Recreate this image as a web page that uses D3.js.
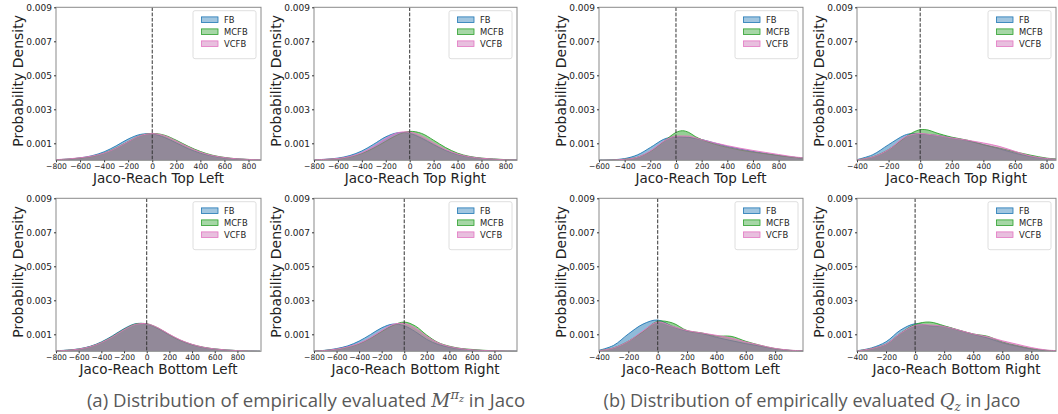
<!DOCTYPE html>
<html><head><meta charset="utf-8">
<script src="https://cdn.jsdelivr.net/npm/d3@7"></script>
<style>body{margin:0;background:#fff} svg{display:block}</style>
</head><body>
<svg id="chart" width="1058" height="414"></svg>
<script>
// ---------- DATA ----------
const series = ["FB", "MCFB", "VCFB"];
const yTickValues = [0.001, 0.003, 0.005, 0.007, 0.009];
const xTicksA = [-800, -600, -400, -200, 0, 200, 400, 600, 800];
const xTicksB = [-600, -400, -200, 0, 200, 400, 600, 800];
const xTicksC = [-400, -200, 0, 200, 400, 600, 800];
const panelTitles = ["Jaco-Reach Top Left", "Jaco-Reach Top Right", "Jaco-Reach Top Left", "Jaco-Reach Top Right",
                     "Jaco-Reach Bottom Left", "Jaco-Reach Bottom Right", "Jaco-Reach Bottom Left", "Jaco-Reach Bottom Right"];

// densities in units of 1e-3
// (a) M^pi_z, Top Left
const gridM_TL = [-800,-700,-600,-500,-400,-300,-200,-100,0,100,200,300,400,500,600,700,800,900];
const fbM_TL   = [0.03,0.07,0.14,0.27,0.50,0.85,1.25,1.52,1.55,1.35,1.02,0.68,0.42,0.25,0.14,0.08,0.04,0.02];
const mcfbM_TL = [0.03,0.07,0.13,0.23,0.42,0.73,1.10,1.45,1.58,1.48,1.18,0.82,0.52,0.30,0.17,0.09,0.05,0.02];
const vcfbM_TL = [0.04,0.08,0.15,0.25,0.42,0.72,1.10,1.45,1.57,1.45,1.13,0.78,0.48,0.28,0.16,0.09,0.05,0.03];
// (a) Top Right
const gridM_TR = [-800,-700,-600,-500,-400,-300,-200,-100,0,100,200,300,400,500,600,700,800,900];
const fbM_TR   = [0.03,0.06,0.13,0.28,0.55,0.95,1.38,1.62,1.58,1.30,0.92,0.58,0.34,0.20,0.11,0.06,0.03,0.02];
const mcfbM_TR = [0.02,0.05,0.10,0.20,0.40,0.72,1.12,1.50,1.70,1.58,1.18,0.75,0.42,0.23,0.13,0.08,0.04,0.02];
const vcfbM_TR = [0.03,0.06,0.11,0.22,0.45,0.82,1.28,1.62,1.66,1.42,1.02,0.64,0.37,0.21,0.12,0.07,0.03,0.02];
// (a) Bottom Left
const gridM_BL = [-800,-700,-600,-500,-400,-300,-200,-100,0,100,200,300,400,500,600,700,800,900,1000];
const fbM_BL   = [0.03,0.07,0.14,0.29,0.55,0.92,1.33,1.62,1.60,1.33,0.95,0.62,0.38,0.22,0.13,0.07,0.04,0.02,0.01];
const mcfbM_BL = [0.03,0.06,0.13,0.27,0.52,0.88,1.29,1.60,1.62,1.37,0.98,0.64,0.40,0.24,0.14,0.08,0.04,0.02,0.01];
const vcfbM_BL = [0.03,0.06,0.13,0.27,0.51,0.86,1.27,1.58,1.62,1.38,1.00,0.66,0.41,0.24,0.14,0.08,0.04,0.02,0.01];
// (a) Bottom Right
const gridM_BR = [-800,-700,-600,-500,-400,-300,-200,-100,0,100,200,300,400,500,600,700,800,900,1000];
const fbM_BR   = [0.02,0.06,0.16,0.32,0.60,0.98,1.38,1.60,1.50,1.15,0.70,0.40,0.24,0.14,0.08,0.04,0.02,0.01,0.01];
const mcfbM_BR = [0.02,0.05,0.12,0.24,0.44,0.76,1.16,1.52,1.72,1.48,0.95,0.52,0.30,0.17,0.11,0.06,0.03,0.02,0.01];
const vcfbM_BR = [0.02,0.05,0.13,0.26,0.47,0.80,1.22,1.58,1.63,1.35,0.88,0.50,0.28,0.16,0.09,0.05,0.03,0.02,0.01];
// (b) Q_z, Top Left
const gridQ_TL = [-600,-500,-400,-300,-200,-100,-50,0,50,100,150,200,300,400,500,600,700,800,900,1000];
const fbQ_TL   = [0.01,0.03,0.10,0.32,0.75,1.22,1.34,1.38,1.37,1.35,1.29,1.22,1.02,0.82,0.66,0.52,0.40,0.28,0.19,0.12];
const mcfbQ_TL = [0.01,0.02,0.06,0.18,0.52,1.08,1.38,1.64,1.74,1.64,1.40,1.22,0.95,0.76,0.60,0.48,0.38,0.28,0.19,0.12];
const vcfbQ_TL = [0.01,0.02,0.06,0.18,0.55,1.10,1.32,1.42,1.43,1.42,1.33,1.22,1.03,0.86,0.71,0.58,0.46,0.34,0.22,0.14];
// (b) Top Right
const gridQ_TR = [-400,-300,-200,-100,-50,0,50,100,200,300,400,500,600,700,800,900];
const fbQ_TR   = [0.04,0.33,0.92,1.47,1.58,1.55,1.52,1.47,1.33,1.15,0.92,0.68,0.42,0.22,0.10,0.04];
const mcfbQ_TR = [0.03,0.20,0.63,1.31,1.62,1.80,1.78,1.62,1.36,1.18,0.92,0.72,0.50,0.30,0.13,0.05];
const vcfbQ_TR = [0.03,0.20,0.63,1.35,1.52,1.58,1.53,1.47,1.32,1.18,1.02,0.82,0.53,0.25,0.11,0.04];
// (b) Bottom Left
const gridQ_BL = [-400,-300,-200,-100,0,100,200,300,400,500,600,700,800,900,1000];
const fbQ_BL   = [0.06,0.35,1.02,1.60,1.84,1.47,1.18,1.05,0.82,0.63,0.45,0.30,0.14,0.05,0.02];
const mcfbQ_BL = [0.04,0.20,0.59,1.16,1.76,1.67,1.22,1.08,0.90,0.88,0.59,0.35,0.16,0.06,0.02];
const vcfbQ_BL = [0.04,0.20,0.59,1.20,1.72,1.47,1.22,1.08,0.94,0.78,0.55,0.35,0.17,0.07,0.02];
// (b) Bottom Right
const gridQ_BR = [-400,-300,-200,-100,0,100,200,300,400,500,600,700,800,900,1000];
const fbQ_BR   = [0.03,0.20,0.56,1.25,1.62,1.50,1.46,1.23,1.00,0.78,0.50,0.30,0.13,0.05,0.02];
const mcfbQ_BR = [0.02,0.16,0.42,1.06,1.58,1.72,1.50,1.25,1.02,0.88,0.55,0.34,0.16,0.06,0.02];
const vcfbQ_BR = [0.02,0.16,0.42,1.06,1.52,1.55,1.46,1.25,1.02,0.85,0.62,0.42,0.22,0.08,0.03];

// ---------- LAYOUT / STYLE ----------
const strokeColors = {FB: "#1f77b4", MCFB: "#2ca02c", VCFB: "#e377c2"};
const fillColors = {FB: "#1f77b4", MCFB: "#2ca02c", VCFB: "#c766b0"};
const panels = [
  {grid: gridM_TL, vals: [fbM_TL, mcfbM_TL, vcfbM_TL], left: 56,  right: 261,  top: 7.3,   bottom: 160.3, xmin: -800, xmax: 904, ticks: xTicksA, title: panelTitles[0]},
  {grid: gridM_TR, vals: [fbM_TR, mcfbM_TR, vcfbM_TR], left: 314, right: 517,  top: 7.3,   bottom: 160.3, xmin: -800, xmax: 897, ticks: xTicksA, title: panelTitles[1]},
  {grid: gridQ_TL, vals: [fbQ_TL, mcfbQ_TL, vcfbQ_TL], left: 599, right: 803,  top: 7.3,   bottom: 160.3, xmin: -600, xmax: 990, ticks: xTicksB, title: panelTitles[2]},
  {grid: gridQ_TR, vals: [fbQ_TR, mcfbQ_TR, vcfbQ_TR], left: 857, right: 1056, top: 7.3,   bottom: 160.3, xmin: -400, xmax: 860, ticks: xTicksC, title: panelTitles[3]},
  {grid: gridM_BL, vals: [fbM_BL, mcfbM_BL, vcfbM_BL], left: 56,  right: 261,  top: 198.3, bottom: 351.3, xmin: -800, xmax: 1008, ticks: xTicksA, title: panelTitles[4]},
  {grid: gridM_BR, vals: [fbM_BR, mcfbM_BR, vcfbM_BR], left: 314, right: 517,  top: 198.3, bottom: 351.3, xmin: -800, xmax: 1000, ticks: xTicksA, title: panelTitles[5]},
  {grid: gridQ_BL, vals: [fbQ_BL, mcfbQ_BL, vcfbQ_BL], left: 599, right: 803,  top: 198.3, bottom: 351.3, xmin: -400, xmax: 990, ticks: xTicksC, title: panelTitles[6]},
  {grid: gridQ_BR, vals: [fbQ_BR, mcfbQ_BR, vcfbQ_BR], left: 857, right: 1056, top: 198.3, bottom: 351.3, xmin: -400, xmax: 970, ticks: xTicksC, title: panelTitles[7]}
];
const FONT = "'DejaVu Sans', sans-serif";
const fillOpacity = 0.5;
const legendOpacity = 0.42;
const curve = d3.curveCatmullRom.alpha(0.5);

const svg = d3.select("#chart");
svg.append("rect").attr("width", 1058).attr("height", 414).attr("fill", "#fff");

panels.forEach((p, i) => {
  const x = d3.scaleLinear().domain([p.xmin, p.xmax]).range([p.left, p.right]);
  const y = d3.scaleLinear().domain([0, 0.009]).range([p.bottom, p.top]);
  const g = svg.append("g");
  const clipId = "clip" + i;
  svg.append("clipPath").attr("id", clipId).append("rect")
    .attr("x", p.left).attr("y", p.top).attr("width", p.right - p.left).attr("height", p.bottom - p.top);

  const plot = g.append("g").attr("clip-path", `url(#${clipId})`);
  series.forEach((s, k) => {
    const pts = p.grid.map((xv, j) => [xv, p.vals[k][j] / 1000]);
    const area = d3.area().x(d => x(d[0])).y0(y(0)).y1(d => y(Math.max(0, d[1]))).curve(curve);
    const line = d3.line().x(d => x(d[0])).y(d => y(Math.max(0, d[1]))).curve(curve);
    plot.append("path").attr("d", area(pts)).attr("fill", fillColors[s]).attr("fill-opacity", fillOpacity);
    plot.append("path").attr("d", line(pts)).attr("fill", "none").attr("stroke", strokeColors[s]).attr("stroke-width", 0.9);
  });
  // dashed zero line
  plot.append("line").attr("x1", x(0)).attr("x2", x(0)).attr("y1", p.top).attr("y2", p.bottom)
    .attr("stroke", "#333").attr("stroke-width", 1).attr("stroke-dasharray", "3.7,1.6");

  // frame
  g.append("rect").attr("x", p.left).attr("y", p.top).attr("width", p.right - p.left).attr("height", p.bottom - p.top)
    .attr("fill", "none").attr("stroke", "#8a8a8a").attr("stroke-width", 1);

  // axes
  const xAxis = g.append("g").attr("transform", `translate(0,${p.bottom})`)
    .call(d3.axisBottom(x).tickValues(p.ticks).tickSize(2).tickPadding(1.5).tickFormat(d3.format("d")));
  const yAxis = g.append("g").attr("transform", `translate(${p.left},0)`)
    .call(d3.axisLeft(y).tickValues(yTickValues).tickSize(2).tickPadding(2).tickFormat(d3.format(".3f")));
  [xAxis, yAxis].forEach(a => { a.select(".domain").remove(); a.selectAll("line").attr("stroke", "#333"); });
  xAxis.selectAll("text").attr("font-family", FONT).attr("font-size", 7.6).attr("fill", "#222");
  yAxis.selectAll("text").attr("font-family", FONT).attr("font-size", 9).attr("fill", "#222");

  // axis labels
  g.append("text").attr("x", (p.left + p.right) / 2).attr("y", p.bottom + 23)
    .attr("text-anchor", "middle").attr("font-family", FONT).attr("font-size", 13.5).attr("fill", "#222").text(p.title);
  g.append("text").attr("transform", `translate(${p.left - 38.5},${(p.top + p.bottom) / 2 - 3}) rotate(-90)`)
    .attr("text-anchor", "middle").attr("dominant-baseline", "central")
    .attr("font-family", FONT).attr("font-size", 14).attr("fill", "#222").text("Probability Density");

  // legend
  const lw = 63, lh = 48;
  const lx = p.right - 5 - lw, ly = p.top + 3.4;
  const lg = g.append("g").attr("transform", `translate(${lx},${ly})`);
  lg.append("rect").attr("width", lw).attr("height", lh).attr("rx", 2).attr("fill", "#fff").attr("fill-opacity", 0.8)
    .attr("stroke", "#d6d6d6").attr("stroke-width", 0.8);
  series.forEach((s, k) => {
    const ry = 9 + k * 12;
    lg.append("rect").attr("x", 8.5).attr("y", ry - 2.8).attr("width", 16.5).attr("height", 5.6)
      .attr("fill", fillColors[s]).attr("fill-opacity", legendOpacity).attr("stroke", strokeColors[s]).attr("stroke-width", 0.8);
    lg.append("text").attr("x", 31).attr("y", ry).attr("dominant-baseline", "central")
      .attr("font-family", FONT).attr("font-size", 8.4).attr("fill", "#222").text(s);
  });
});

// captions
const CAP = "'Open Sans', 'Noto Sans', sans-serif";
const capA = svg.append("text").attr("x", 306).attr("y", 407).attr("text-anchor", "middle")
  .attr("font-family", CAP).attr("font-size", 18.6).attr("fill", "#595959");
capA.append("tspan").text("(a) Distribution of empirically evaluated ");
capA.append("tspan").attr("font-family", "'DejaVu Serif', serif").attr("font-style", "italic").text("M");
capA.append("tspan").attr("font-family", "'DejaVu Serif', serif").attr("font-style", "italic").attr("font-size", 13).attr("dy", -8).text("π");
capA.append("tspan").attr("font-family", "'DejaVu Serif', serif").attr("font-style", "italic").attr("font-size", 9.5).attr("dy", 3).text("z");
capA.append("tspan").attr("dy", 5).text(" in Jaco");

const capB = svg.append("text").attr("x", 812).attr("y", 407).attr("text-anchor", "middle")
  .attr("font-family", CAP).attr("font-size", 18.1).attr("fill", "#595959");
capB.append("tspan").text("(b) Distribution of empirically evaluated ");
capB.append("tspan").attr("font-family", "'DejaVu Serif', serif").attr("font-style", "italic").text("Q");
capB.append("tspan").attr("font-family", "'DejaVu Serif', serif").attr("font-style", "italic").attr("font-size", 12).attr("dy", 4).text("z");
capB.append("tspan").attr("dy", -4).text(" in Jaco");
</script></body></html>
